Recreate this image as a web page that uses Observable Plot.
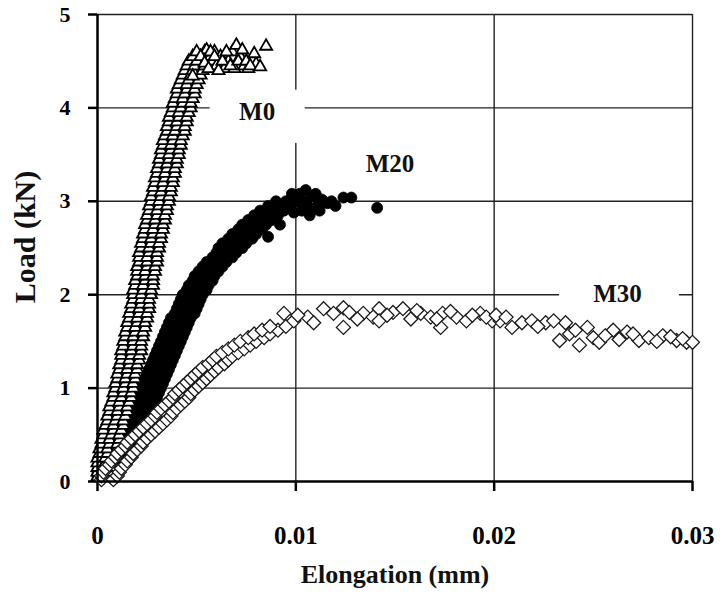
<!DOCTYPE html>
<html>
<head>
<meta charset="utf-8">
<script src="https://cdn.jsdelivr.net/npm/d3@7"></script>
<script src="https://cdn.jsdelivr.net/npm/@observablehq/plot@0.6"></script>
<style>
  html, body { margin: 0; padding: 0; background: #fff; }
  #chart svg { display: block; }
</style>
</head>
<body>
<div id="chart"></div>
<script>
// Readings from the reference. Each row: [load (kN), elongation values (mm) at that load]
const m0Rows = [
  [0.05,0.0000,0.0002,0.0006],[0.10,0.0000,0.0003,0.0007],[0.15,0.0000,0.0003,0.0007],
  [0.20,0.0000,0.0004,0.0008],[0.25,0.0000,0.0004,0.0009],[0.30,0.0001,0.0005,0.0009],
  [0.35,0.0001,0.0005,0.0010],[0.40,0.0002,0.0006,0.0010],[0.45,0.0002,0.0006,0.0011],
  [0.50,0.0003,0.0007,0.0011],[0.55,0.0003,0.0008,0.0012],[0.60,0.0004,0.0008,0.0013],
  [0.65,0.0005,0.0009,0.0013],[0.70,0.0005,0.0010,0.0014],[0.75,0.0006,0.0010,0.0015],
  [0.80,0.0006,0.0011,0.0015],[0.85,0.0007,0.0011,0.0016],[0.90,0.0008,0.0012,0.0017],
  [0.95,0.0008,0.0013,0.0017],[1.00,0.0009,0.0013,0.0018],[1.05,0.0009,0.0014,0.0018],
  [1.10,0.0010,0.0014,0.0019],[1.15,0.0010,0.0015,0.0019],[1.20,0.0011,0.0015,0.0020],
  [1.25,0.0011,0.0016,0.0020],[1.30,0.0012,0.0016,0.0021],[1.35,0.0012,0.0017,0.0021],
  [1.40,0.0012,0.0017,0.0022],[1.45,0.0013,0.0018,0.0022],[1.50,0.0013,0.0018,0.0022],
  [1.55,0.0014,0.0018,0.0023],[1.60,0.0014,0.0019,0.0023],[1.65,0.0015,0.0019,0.0024],
  [1.70,0.0015,0.0020,0.0024],[1.75,0.0016,0.0020,0.0025],[1.80,0.0016,0.0021,0.0025],
  [1.85,0.0017,0.0021,0.0026],[1.90,0.0017,0.0022,0.0026],[1.95,0.0018,0.0022,0.0026],
  [2.00,0.0018,0.0022,0.0027],[2.05,0.0018,0.0023,0.0027],[2.10,0.0019,0.0023,0.0028],
  [2.15,0.0019,0.0024,0.0028],[2.20,0.0020,0.0024,0.0028],[2.25,0.0020,0.0024,0.0029],
  [2.30,0.0020,0.0025,0.0029],[2.35,0.0021,0.0025,0.0030],[2.40,0.0021,0.0025,0.0030],
  [2.45,0.0021,0.0026,0.0030],[2.50,0.0022,0.0026,0.0031],[2.55,0.0022,0.0027,0.0031],
  [2.60,0.0023,0.0027,0.0032],[2.65,0.0023,0.0028,0.0032],[2.70,0.0024,0.0028,0.0033],
  [2.75,0.0024,0.0029,0.0033],[2.80,0.0025,0.0029,0.0034],[2.85,0.0025,0.0030,0.0034],
  [2.90,0.0026,0.0030,0.0035],[2.95,0.0026,0.0031,0.0035],[3.00,0.0027,0.0031,0.0036],
  [3.05,0.0027,0.0032,0.0036],[3.10,0.0028,0.0032,0.0037],[3.15,0.0028,0.0033,0.0037],
  [3.20,0.0029,0.0033,0.0038],[3.25,0.0029,0.0034,0.0038],[3.30,0.0030,0.0034,0.0039],
  [3.35,0.0030,0.0035,0.0039],[3.40,0.0031,0.0035,0.0040],[3.45,0.0031,0.0036,0.0040],
  [3.50,0.0032,0.0036,0.0041],[3.55,0.0032,0.0037,0.0041],[3.60,0.0033,0.0037,0.0042],
  [3.65,0.0033,0.0038,0.0042],[3.70,0.0034,0.0038,0.0043],[3.75,0.0035,0.0039,0.0044],
  [3.80,0.0035,0.0040,0.0044],[3.85,0.0036,0.0040,0.0045],[3.90,0.0036,0.0041,0.0045],
  [3.95,0.0037,0.0041,0.0046],[4.00,0.0038,0.0042,0.0047],[4.05,0.0038,0.0043,0.0047],
  [4.10,0.0039,0.0043,0.0048],[4.15,0.0040,0.0044,0.0049],[4.20,0.0040,0.0045,0.0049],
  [4.25,0.0041,0.0045,0.0050],[4.30,0.0042,0.0046,0.0051],[4.35,0.0043,0.0047,0.0052],
  [4.40,0.0044,0.0048,0.0053],[4.45,0.0045,0.0049,0.0054],[4.50,0.0046,0.0050,0.0055],
  [4.55,0.0048,0.0052,0.0057],[4.60,0.0050,0.0054,0.0059],
  [4.62,0.0055],[4.50,0.0058],[4.45,0.0060],[4.55,0.0062],[4.42,0.0064],
  [4.50,0.0066],[4.60,0.0068],[4.42,0.0069],[4.67,0.0070],[4.55,0.0072],
  [4.45,0.0074],[4.42,0.0076],[4.52,0.0078],[4.47,0.0080],[4.66,0.0085],
  [4.55,0.0052],[4.48,0.0054],[4.42,0.0056],[4.60,0.0057],[4.55,0.0059],
  [4.40,0.0061],[4.50,0.0063],[4.60,0.0065],[4.45,0.0067],[4.50,0.0071],
  [4.62,0.0073],[4.50,0.0075],[4.45,0.0077],[4.58,0.0079],[4.44,0.0082],
  [4.34,0.0048]
];
const m20Rows = [
  [0.05,0.0000,0.0003,0.0007],[0.10,0.0000,0.0005,0.0009],[0.15,0.0001,0.0006,0.0010],
  [0.20,0.0002,0.0007,0.0011],[0.25,0.0004,0.0009,0.0013],[0.30,0.0005,0.0010,0.0015],
  [0.35,0.0006,0.0011,0.0016],[0.40,0.0007,0.0012,0.0017],[0.45,0.0009,0.0014,0.0018],
  [0.50,0.0010,0.0015,0.0020],[0.55,0.0011,0.0016,0.0021],[0.60,0.0012,0.0017,0.0022],
  [0.65,0.0014,0.0019,0.0024],[0.70,0.0015,0.0020,0.0025],[0.75,0.0016,0.0021,0.0026],
  [0.80,0.0017,0.0022,0.0027],[0.85,0.0018,0.0023,0.0028],[0.90,0.0020,0.0025,0.0030],
  [0.95,0.0021,0.0026,0.0031],[1.00,0.0022,0.0027,0.0032],[1.05,0.0023,0.0028,0.0033],
  [1.10,0.0024,0.0029,0.0034],[1.15,0.0025,0.0030,0.0035],[1.20,0.0026,0.0031,0.0036],
  [1.25,0.0027,0.0032,0.0037],[1.30,0.0028,0.0033,0.0038],[1.35,0.0029,0.0034,0.0039],
  [1.40,0.0030,0.0035,0.0040],[1.45,0.0031,0.0036,0.0041],[1.50,0.0032,0.0037,0.0042],
  [1.55,0.0033,0.0038,0.0043],[1.60,0.0034,0.0039,0.0044],[1.65,0.0035,0.0040,0.0045],
  [1.70,0.0036,0.0041,0.0046],[1.75,0.0037,0.0042,0.0047],[1.80,0.0039,0.0044,0.0049],
  [1.85,0.0040,0.0045,0.0050],[1.90,0.0041,0.0046,0.0051],[1.95,0.0042,0.0047,0.0052],
  [2.00,0.0043,0.0048,0.0053],[2.05,0.0045,0.0050,0.0055],[2.10,0.0046,0.0051,0.0056],
  [2.15,0.0048,0.0053,0.0058],[2.20,0.0049,0.0054,0.0059],[2.25,0.0051,0.0056,0.0061],
  [2.30,0.0053,0.0058,0.0063],[2.35,0.0055,0.0060,0.0065],[2.40,0.0058,0.0063,0.0068],
  [2.45,0.0060,0.0065,0.0070],[2.50,0.0061,0.0067,0.0073],[2.55,0.0063,0.0069,0.0075],
  [2.60,0.0066,0.0072,0.0078],[2.65,0.0068,0.0074,0.0080],[2.70,0.0071,0.0077,0.0083],
  [2.75,0.0073,0.0079,0.0085],[2.80,0.0076,0.0082,0.0088],[2.85,0.0079,0.0085,0.0091],
  [2.90,0.0082,0.0088,0.0094],[2.95,0.0086,0.0092,0.0097],[3.00,0.0090,0.0095,0.0100],
  [2.62,0.0086],[2.75,0.0092],[3.08,0.0098],[3.00,0.0101],[2.90,0.0103],[3.12,0.0105],
  [2.85,0.0107],[3.05,0.0108],[2.95,0.0111],[3.02,0.0113],[2.98,0.0116],[3.04,0.0124],
  [3.04,0.0128],[2.93,0.0141],
  [2.95,0.0096],[2.88,0.0099],[3.08,0.0102],[3.00,0.0104],[2.95,0.0106],[2.92,0.0109],
  [3.08,0.0110],[2.90,0.0112],[3.00,0.0114],[3.00,0.0118],[2.95,0.0120]
];
const m30Rows = [
  [0.02,0.0002,0.0008],[0.06,0.0002,0.0010],[0.10,0.0003,0.0011],[0.14,0.0004,0.0012],
  [0.18,0.0006,0.0014],[0.22,0.0007,0.0015],[0.26,0.0009,0.0017],[0.30,0.0010,0.0018],
  [0.34,0.0012,0.0020],[0.38,0.0014,0.0022],[0.42,0.0015,0.0023],[0.46,0.0017,0.0025],
  [0.50,0.0019,0.0027],[0.54,0.0021,0.0029],[0.58,0.0023,0.0031],[0.62,0.0025,0.0033],
  [0.66,0.0027,0.0035],[0.70,0.0029,0.0037],[0.74,0.0030,0.0038],[0.78,0.0032,0.0040],
  [0.82,0.0034,0.0042],[0.86,0.0036,0.0044],[0.90,0.0038,0.0046],[0.94,0.0039,0.0047],
  [0.98,0.0041,0.0049],[1.02,0.0043,0.0051],[1.06,0.0045,0.0053],[1.10,0.0047,0.0055],
  [1.14,0.0049,0.0057],[1.18,0.0051,0.0059],[1.22,0.0053,0.0061],[1.26,0.0056,0.0064],
  [1.30,0.0058,0.0066],[1.34,0.0060,0.0068],[1.38,0.0063,0.0071],[1.42,0.0066,0.0074],
  [1.46,0.0069,0.0077],[1.50,0.0072,0.0080],[1.54,0.0076,0.0084],[1.58,0.0079,0.0087],
  [1.62,0.0083,0.0091],[1.66,0.0087,0.0095],
  [1.80,0.0094],[1.72,0.0099],[1.76,0.0106],[1.85,0.0114],[1.80,0.0119],
  [1.86,0.0124],[1.65,0.0124],[1.81,0.0127],[1.80,0.0134],[1.76,0.0139],
  [1.85,0.0142],[1.72,0.0142],[1.81,0.0149],[1.85,0.0154],[1.74,0.0158],
  [1.80,0.0163],[1.76,0.0168],[1.65,0.0173],[1.80,0.0174],[1.76,0.0181],
  [1.72,0.0186],[1.80,0.0193],[1.72,0.0199],
  [1.76,0.0196],[1.72,0.0203],[1.65,0.0209],[1.70,0.0214],[1.72,0.0219],
  [1.70,0.0226],[1.51,0.0233],[1.70,0.0236],[1.58,0.0238],[1.46,0.0243],
  [1.65,0.0247],[1.54,0.0250],[1.49,0.0253],[1.62,0.0260],[1.60,0.0267],
  [1.51,0.0273],[1.54,0.0278],[1.56,0.0285],[1.51,0.0292],[1.49,0.0297],
  [1.49,0.0300],
  [1.78,0.0101],[1.70,0.0109],[1.74,0.0131],[1.78,0.0146],[1.83,0.0161],
  [1.74,0.0171],[1.82,0.0178],[1.78,0.0189],[1.78,0.0201],[1.76,0.0206],
  [1.66,0.0222],[1.72,0.0230],[1.62,0.0241],[1.56,0.0256],[1.52,0.0263],
  [1.58,0.0270],[1.50,0.0282],[1.55,0.0289],[1.53,0.0295]
];
const xTicks = [0, 0.01, 0.02, 0.03];
const yTicks = [0, 1, 2, 3, 4, 5];
const seriesLabels = [
  {name: "M0", x: 0.00805, y: 3.96},
  {name: "M20", x: 0.01475, y: 3.40},
  {name: "M30", x: 0.02622, y: 2.01}
];
const labelBoxes = [
  {x1: 0.00568, x2: 0.01047, y1: 3.62, y2: 4.19},
  {x1: 0.0233, x2: 0.02934, y1: 1.88, y2: 2.12}
];

// expand rows into one point per reading
const toPoints = (rows) => rows.flatMap(([l, ...es]) => es.map(e => ({e, l})));
const font = "'Liberation Serif', 'Times New Roman', serif";

const chart = Plot.plot({
  width: 720,
  height: 594,
  marginLeft: 97,
  marginRight: 28,
  marginTop: 14,
  marginBottom: 113,
  style: {fontFamily: font, background: "#fff", color: "#000"},
  x: {domain: [0, 0.03]},
  y: {domain: [0, 5]},
  marks: [
    Plot.gridY(yTicks.filter(d => d > 0), {stroke: "#222", strokeOpacity: 1, strokeWidth: 1.4}),
    Plot.gridX(xTicks.filter(d => d > 0), {stroke: "#222", strokeOpacity: 1, strokeWidth: 1.4}),
    Plot.rect(labelBoxes, {x1: "x1", x2: "x2", y1: "y1", y2: "y2", fill: "white"}),
    Plot.axisY(yTicks, {tickSize: 9, tickPadding: 18, strokeWidth: 2.5, fontSize: 22, fontWeight: "bold", label: null, tickFormat: d => String(d)}),
    Plot.axisX(xTicks, {tickSize: 10, tickPadding: 35, strokeWidth: 2.5, fontSize: 25, fontWeight: "bold", label: null, tickFormat: d => String(d)}),
    Plot.dot(toPoints(m20Rows), {x: "e", y: "l", r: 5.5, symbol: "circle", fill: "black", stroke: "black", strokeWidth: 0.8}),
    Plot.dot(toPoints(m0Rows), {x: "e", y: "l", r: 4.5, symbol: "triangle", fill: "white", stroke: "black", strokeWidth: 1.8}),
    Plot.dot(toPoints(m30Rows), {x: "e", y: "l", r: 6.3, symbol: "diamond2", fill: "white", stroke: "#1a1a1a", strokeWidth: 1.3}),
    Plot.ruleX([0], {stroke: "black", strokeWidth: 2.5}),
    Plot.ruleY([0], {stroke: "black", strokeWidth: 2.5}),
    Plot.text(seriesLabels, {x: "x", y: "y", text: "name", fontSize: 25, fontWeight: "bold", fill: "#111"}),
    Plot.text(["Elongation (mm)"], {frameAnchor: "bottom", textAnchor: "middle", dy: 101, fontSize: 26, fontWeight: "bold", fill: "#111"}),
    Plot.text(["Load (kN)"], {frameAnchor: "left", textAnchor: "middle", dx: -72, dy: -11, rotate: -90, fontSize: 30, fontWeight: "bold", fill: "#111"})
  ]
});
document.getElementById("chart").appendChild(chart);
</script>
</body>
</html>
